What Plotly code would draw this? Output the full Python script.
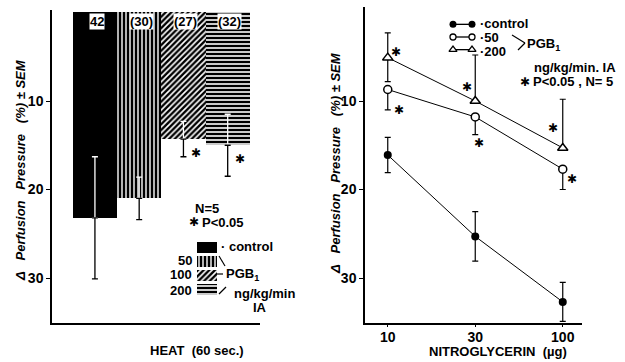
import plotly.graph_objects as go

# ---------------- data ----------------
heat_groups = ["control", "50", "100", "200"]
heat_mean = [23.2, 21.0, 14.3, 15.0]
heat_sem = [6.9, 2.4, 2.0, 3.5]
heat_n = ["42", "(30)", "(27)", "(32)"]
heat_sig = [False, False, True, True]

ntg_dose_labels = ["10", "30", "100"]
ctrl_mean = [16.1, 25.3, 32.7]
ctrl_sem = [2.0, 2.8, 2.2]
pgb50_mean = [8.7, 11.8, 17.7]
pgb50_sem = [2.3, 2.0, 2.3]
pgb200_mean = [5.1, 10.0, 15.3]
pgb200_sem_up = [2.8, 5.2, 5.5]
pgb200_sem_down = [2.7, 0.0, 0.0]

y_ticks = [10, 20, 30]

# ---------------- style ----------------
W, H = 625, 362
FONT = "Liberation Sans"
STAR = "DejaVu Sans"
NB = "\u00a0"


def px(x):
    return x / W


def py(y):
    return 1 - y / H


patterns = [
    dict(shape=""),
    dict(shape="|", bgcolor="black", fgcolor="white", size=4, solidity=0.35, fillmode="replace"),
    dict(shape="/", bgcolor="black", fgcolor="white", size=4, solidity=0.4, fillmode="replace"),
    dict(shape="-", bgcolor="black", fgcolor="white", size=4, solidity=0.4, fillmode="replace"),
]

fig = go.Figure()
idx = list(range(len(heat_groups)))

# bars
for i in idx:
    fig.add_trace(go.Bar(
        x=[i], y=[heat_mean[i]], width=1, base=0,
        marker=dict(color="black", line=dict(width=0), pattern=patterns[i]),
        showlegend=False, xaxis="x", yaxis="y"))

# error bars (white part inside the bar, black part outside)
fig.add_trace(go.Scatter(
    x=idx, y=heat_mean, mode="markers", marker=dict(color="rgba(0,0,0,0)", size=2),
    error_y=dict(type="data", symmetric=False, array=[0] * 4, arrayminus=heat_sem,
                 color="white", thickness=1.3, width=3),
    showlegend=False, xaxis="x", yaxis="y"))
fig.add_trace(go.Scatter(
    x=idx, y=heat_mean, mode="markers", marker=dict(color="rgba(0,0,0,0)", size=2),
    error_y=dict(type="data", symmetric=False, array=heat_sem, arrayminus=[0] * 4,
                 color="black", thickness=1.3, width=3),
    showlegend=False, xaxis="x", yaxis="y"))

# legend swatches (inset axis)
for i in idx:
    fig.add_trace(go.Bar(
        y=[i], x=[1], orientation="h", width=0.78,
        marker=dict(color="black", line=dict(width=0), pattern=patterns[i]),
        showlegend=False, xaxis="x3", yaxis="y3"))

# right panel
xi = list(range(len(ntg_dose_labels)))
line = dict(color="black", width=1)
fig.add_trace(go.Scatter(
    x=xi, y=ctrl_mean, mode="lines+markers", line=line,
    marker=dict(symbol="circle", size=8, color="black"),
    error_y=dict(type="data", array=ctrl_sem, color="black", thickness=1.2, width=3),
    showlegend=False, xaxis="x2", yaxis="y2"))
fig.add_trace(go.Scatter(
    x=xi, y=pgb50_mean, mode="lines+markers", line=line,
    marker=dict(symbol="circle", size=8, color="white", line=dict(color="black", width=1.5)),
    error_y=dict(type="data", symmetric=False, array=pgb50_sem, arrayminus=[0] * 3,
                 color="black", thickness=1.2, width=3),
    showlegend=False, xaxis="x2", yaxis="y2"))
fig.add_trace(go.Scatter(
    x=xi, y=pgb200_mean, mode="lines+markers", line=line,
    marker=dict(symbol="triangle-up", size=9, color="white", line=dict(color="black", width=1.5)),
    error_y=dict(type="data", symmetric=False, array=pgb200_sem_down, arrayminus=pgb200_sem_up,
                 color="black", thickness=1.2, width=3),
    showlegend=False, xaxis="x2", yaxis="y2"))

# right legend keys (inset axis)
leg_markers = [
    dict(symbol="circle", size=7, color="black"),
    dict(symbol="circle", size=6, color="white", line=dict(color="black", width=1.3)),
    dict(symbol="triangle-up", size=7, color="white", line=dict(color="black", width=1.3)),
]
for r, m in enumerate(leg_markers):
    fig.add_trace(go.Scatter(x=[0, 1], y=[r, r], mode="lines+markers", line=dict(color="black", width=1.3),
                             marker=m, showlegend=False, xaxis="x4", yaxis="y4", cliponaxis=False))

tickfont = dict(family=FONT, size=14, color="black", weight="bold")
axis_common = dict(showgrid=False, zeroline=False, showline=True, linecolor="black", linewidth=1.5)

fig.update_layout(
    width=W, height=H, margin=dict(l=0, r=0, t=0, b=0),
    paper_bgcolor="white", plot_bgcolor="white", showlegend=False, barmode="overlay", bargap=0,
    xaxis=dict(domain=[px(52), px(260)], range=[-0.97, 3.73], showticklabels=False, ticks="",
               anchor="y", **axis_common),
    yaxis=dict(domain=[py(323), py(10)], range=[35.08, -0.28], tickvals=y_ticks, ticks="outside",
               ticklen=4, tickwidth=1.3, tickcolor="black", tickfont=tickfont, anchor="x", **axis_common),
    xaxis2=dict(domain=[px(365), px(582)], range=[-0.26, 2.22], tickvals=xi, ticktext=ntg_dose_labels,
                ticks="outside", ticklen=2, tickwidth=1.3, tickcolor="black", tickfont=tickfont,
                ticklabelstandoff=-2, anchor="y2", **axis_common),
    yaxis2=dict(domain=[py(323), py(7)], range=[35.08, -0.62], tickvals=y_ticks, ticks="outside",
                ticklen=4, tickwidth=1.3, tickcolor="black", tickfont=tickfont, anchor="x2", **axis_common),
    xaxis3=dict(domain=[px(197), px(217)], range=[0, 1], visible=False, anchor="y3", fixedrange=True),
    yaxis3=dict(domain=[py(297), py(240)], range=[3.5, -0.5], visible=False, anchor="x3"),
    xaxis4=dict(domain=[px(453), px(472)], range=[0, 1], visible=False, anchor="y4"),
    yaxis4=dict(domain=[py(56), py(18)], range=[2.5, -0.5], visible=False, anchor="x4"),
)

ann = []


def txt(x, y, s, size=13, xanchor="center", yanchor="middle", ref="paper", italic=False, angle=0,
        family=FONT, **kw):
    a = dict(x=x, y=y, text=s, showarrow=False, xanchor=xanchor, yanchor=yanchor,
             font=dict(family=family, size=size, color="black", weight="bold",
                       style="italic" if italic else "normal"),
             textangle=angle, **kw)
    if ref == "paper":
        a.update(xref="paper", yref="paper")
    else:
        a.update(xref=ref[0], yref=ref[1])
    ann.append(a)


# bar count labels
for i in idx:
    txt(i + 0.05, 1.0, heat_n[i], size=13, ref=("x", "y"), bgcolor="white", borderpad=0)

# left asterisks
for i in idx:
    if heat_sig[i]:
        txt(i + 0.28, heat_mean[i] + 1.6, "✱", size=12, ref=("x", "y"), family=STAR)

# right asterisks (beside each PGB point)
star_pos = [(0.09, 4.5), (0.13, 11.0), (0.90, 8.4), (1.04, 14.7), (1.89, 13.0), (2.11, 18.8)]
for sx, sy in star_pos:
    txt(sx, sy, "✱", size=12, ref=("x2", "y2"), family=STAR)

# axis titles
gap = NB + NB + " "
ytitle = "Δ" + gap + "Perfusion" + gap + "Pressure" + gap + "(%) ± SEM"
txt(px(20), py(170), ytitle, size=13, italic=True, angle=-90)
txt(px(335), py(163), ytitle, size=13, italic=True, angle=-90)
txt(px(197), py(350), "HEAT" + NB + " (60" + NB + "sec.)", size=13)
txt(px(498), py(351), "NITROGLYCERIN" + NB + " (µg)", size=13)

# left legend texts
txt(px(207), py(208), "N=5", size=13)
txt(px(187), py(222), "✱", size=12, xanchor="left", family=STAR)
txt(px(200), py(222), "P<0.05", size=13, xanchor="left")
txt(px(219), py(246), "· control", size=13, xanchor="left")
txt(px(194), py(260), "50", size=13, xanchor="right")
txt(px(194), py(274), "100", size=13, xanchor="right")
txt(px(194), py(290), "200", size=13, xanchor="right")
txt(px(224), py(274), "PGB<sub>1</sub>", size=13, xanchor="left")
txt(px(232), py(293), "ng/kg/min", size=13, xanchor="left")
txt(px(251), py(307), "IA", size=13, xanchor="left")

# right legend texts
txt(px(478), py(23), "·control", size=13, xanchor="left")
txt(px(478), py(37), "·50", size=13, xanchor="left")
txt(px(478), py(51), "·200", size=13, xanchor="left")
txt(px(525), py(44), "PGB<sub>1</sub>", size=13, xanchor="left")
txt(px(532), py(68), "ng/kg/min. IA", size=13, xanchor="left")
txt(px(518), py(82), "✱", size=12, xanchor="left", family=STAR)
txt(px(531), py(82), "P<0.05 , N= 5", size=13, xanchor="left")

fig.update_layout(annotations=ann)

# bracket strokes
shapes = []
for (x0, y0, x1, y1) in [(219, 256, 225, 266), (217, 274, 223, 274), (219, 294, 226, 287),
                         (512, 35, 525, 43), (518, 50, 525, 43)]:
    shapes.append(dict(type="line", xref="paper", yref="paper", x0=px(x0), y0=py(y0), x1=px(x1), y1=py(y1),
                       line=dict(color="black", width=1.2)))
fig.update_layout(shapes=shapes)

fig.write_html("out.html", config={"displayModeBar": False},
               post_script="document.body.style.margin='0';document.body.style.overflow='hidden';")
